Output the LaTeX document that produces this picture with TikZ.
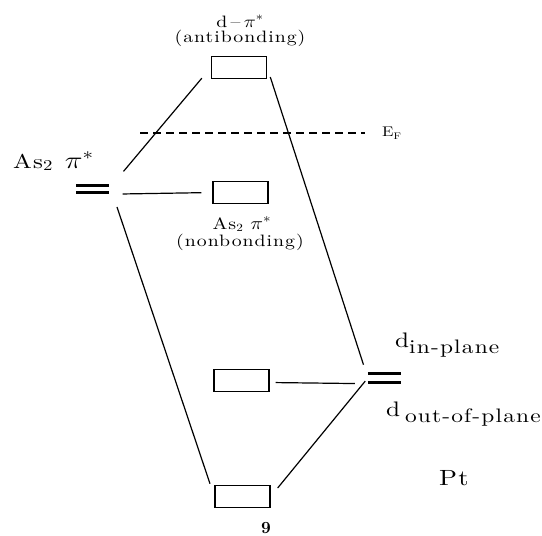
\documentclass[tikz,border=0pt]{standalone}
\usepackage{fix-cm}
\usepackage{graphicx}
\usepackage{fontspec}
\setmainfont{lmroman10-regular.otf}[BoldFont=lmroman10-bold.otf]
\newfontfamily\myspaced{lmroman10-regular.otf}[LetterSpace=5]
\newcommand{\lb}[3][1.2]{\scalebox{#1}[1]{\fontsize{#2}{#2}\selectfont\myspaced #3}}
\tikzset{
  mobox/.style={draw, line width=1.4pt, minimum width=55pt, minimum height=22pt, inner sep=0pt},
  lvl/.style={minimum width=32pt, minimum height=10pt, inner sep=0pt},
  bar/.style={line width=3.2pt},
  conn/.style={line width=1.2pt},
  fermi/.style={line width=1.3pt, dash pattern=on 8pt off 5pt},
  lbl/.style={inner sep=0pt, anchor=base},
  lblw/.style={inner sep=0pt, anchor=base west},
}
\begin{document}
\begin{tikzpicture}[x=1pt,y=-1pt]
\useasboundingbox (0,0) rectangle (542,536);
% MO boxes
\node[mobox] (boxA) at (239,67.5) {};
\node[mobox] (boxB) at (240.5,192.5) {};
\node[mobox] (boxC) at (241.5,380.5) {};
\node[mobox] (boxD) at (242.5,496.5) {};
% fragment levels
\node[lvl] (as) at (92.5,189) {};
\draw[bar] ([yshift=-1.5pt]as.north west) -- ([yshift=-1.5pt]as.north east);
\draw[bar] ([yshift=1.5pt]as.south west) -- ([yshift=1.5pt]as.south east);
\node[lvl, minimum width=33pt, minimum height=11pt] (pt) at (384.5,378) {};
\draw[bar] ([yshift=-1.5pt]pt.north west) -- ([yshift=-1.5pt]pt.north east);
\draw[bar] ([yshift=1.5pt]pt.south west) -- ([yshift=1.5pt]pt.south east);
% correlation lines
\draw[conn, shorten <=23pt, shorten >=14pt] (as.east) -- (boxA.west);
\draw[conn, shorten <=14pt, shorten >=11pt] (as.south east) -- (boxB.west);
\draw[conn, shorten <=13.5pt, shorten >=13.5pt] ([xshift=4pt]as.south east) -- (boxD.west);
\draw[conn, shorten <=10pt, shorten >=14pt] (boxA.east) -- (pt.west);
\draw[conn, shorten <=6pt, shorten >=13pt] ([yshift=-2pt]boxC.east) -- (pt.south west);
\draw[conn, shorten <=11pt, shorten >=4pt] (boxD.east) -- (pt.west);
% Fermi level
\coordinate (ef1) at (140,133);
\coordinate (ef2) at (365,133);
\draw[fermi] (ef1) -- (ef2);
\node[lblw] (ef) at (382,136.5) {\lb{14}{E\raisebox{-3pt}{\fontsize{9.5}{9.5}\selectfont F}}};
% labels
\node[lbl] (dpi) at (240,27) {\lb{16.5}{d\,\textendash\,{\fontsize{17}{17}\selectfont$\pi^{*}$}}};
\node[lbl] (anti) at (240,42.5) {\lb{16.5}{(antibonding)}};
\node[lbl] (as2s) at (242,229) {\lb{16.5}{As\raisebox{-2pt}{\fontsize{11}{11}\selectfont 2} {\fontsize{18}{18}\selectfont$\pi^{*}$}}};
\node[lbl] (nonb) at (240,246) {\lb{16.5}{(nonbonding)}};
\node[lblw] (asbig) at (13,168) {\lb[1.25]{20}{As\raisebox{-2pt}{\fontsize{15}{15}\selectfont 2}\hspace{10pt}{\fontsize{24}{24}\selectfont$\pi^{*}$}}};
\node[lblw] (din) at (395,347) {\lb{21}{d\raisebox{-6pt}{\fontsize{19.5}{19.5}\selectfont in-plane}}};
\node[lblw] (dout) at (386,416) {\lb{21}{d\hspace{4pt}\raisebox{-6pt}{\fontsize{19.5}{19.5}\selectfont out-of-plane}}};
\node[lblw] (ptl) at (439,485) {\lb{22}{Pt}};
\node[inner sep=0pt] (nine) at (266,528) {\fontsize{17}{17}\selectfont\bfseries 9};
\end{tikzpicture}
\end{document}
